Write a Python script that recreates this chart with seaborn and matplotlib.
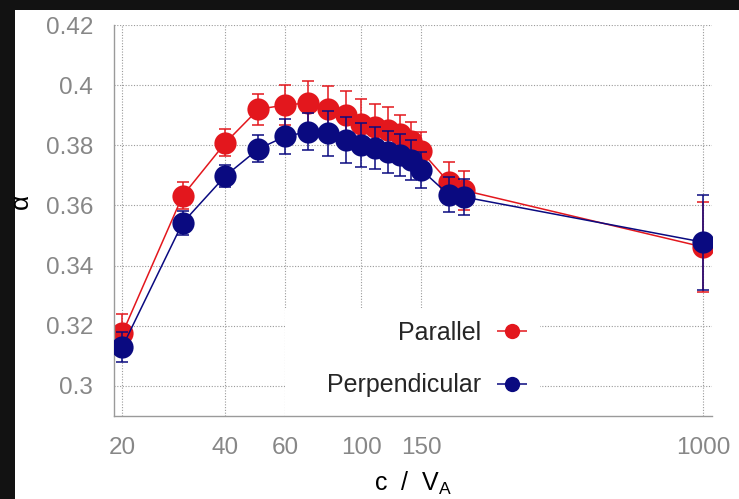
import numpy as np
import pandas as pd
import matplotlib
matplotlib.use("Agg")
import matplotlib.pyplot as plt
import seaborn as sns
from matplotlib.container import ErrorbarContainer
from matplotlib.legend_handler import HandlerErrorbar
from matplotlib.patches import Rectangle

# Speed of light in units of the Alfven speed
c_over_va = [20, 30, 40, 50, 60, 70, 80, 90, 100, 110, 120, 130, 140, 150, 180, 200, 1000]

# Spectral index alpha with its uncertainty, parallel and perpendicular cases
alpha_par = [0.3175, 0.3632, 0.3808, 0.3920, 0.3934, 0.3941, 0.3922, 0.3902, 0.3872,
             0.3860, 0.3852, 0.3838, 0.3815, 0.3780, 0.3678, 0.3650, 0.3462]
err_par = [0.0065, 0.0045, 0.0045, 0.0052, 0.0066, 0.0073, 0.0076, 0.0080, 0.0082,
           0.0078, 0.0075, 0.0063, 0.0062, 0.0064, 0.0067, 0.0064, 0.0150]
alpha_perp = [0.3130, 0.3542, 0.3698, 0.3788, 0.3830, 0.3845, 0.3840, 0.3818, 0.3801,
              0.3791, 0.3778, 0.3768, 0.3750, 0.3718, 0.3636, 0.3628, 0.3478]
err_perp = [0.0050, 0.0040, 0.0035, 0.0045, 0.0058, 0.0062, 0.0075, 0.0076, 0.0073,
            0.0070, 0.0070, 0.0070, 0.0066, 0.0060, 0.0057, 0.0060, 0.0158]

series_names = ["Parallel", "Perpendicular"]
series_colors = ["#e3171d", "#0a0a80"]

x_ticks = [20, 40, 60, 100, 150, 1000]
x_ticklabels = ["20", "40", "60", "100", "150", "1000"]
y_ticks = [0.30, 0.32, 0.34, 0.36, 0.38, 0.40, 0.42]
y_ticklabels = ["0.3", "0.32", "0.34", "0.36", "0.38", "0.4", "0.42"]

df = pd.concat([
    pd.DataFrame({"c": c_over_va, "alpha": alpha_par, "err": err_par, "series": series_names[0]}),
    pd.DataFrame({"c": c_over_va, "alpha": alpha_perp, "err": err_perp, "series": series_names[1]}),
], ignore_index=True)

sns.set_style("white")
plt.rcParams["font.family"] = ["Liberation Sans", "DejaVu Sans"]

fig = plt.figure(figsize=(7.39, 4.99), dpi=100)
fig.patch.set_facecolor("#121212")
# white slide area
fig.patches.append(Rectangle((15 / 739, 0), 1, 1 - 10 / 499, transform=fig.transFigure,
                             facecolor="white", edgecolor="none", zorder=-10))

ax = fig.add_axes([114 / 739, 1 - 416 / 499, (712 - 114) / 739, (416 - 25) / 499])
ax.set_zorder(1)
ax.set_facecolor("white")
ax.set_xscale("log")

grid_color = "#9a9a9a"
for name, color, z in zip(series_names, series_colors, [2.0, 3.0]):
    sub = df[df["series"] == name]
    sns.lineplot(data=sub, x="c", y="alpha", ax=ax, color=color, linewidth=1.1,
                 sort=False, estimator=None, errorbar=None, legend=False, zorder=z)
    ax.errorbar(sub["c"], sub["alpha"], yerr=sub["err"], fmt="none", ecolor=color,
                elinewidth=1.1, capsize=4.3, capthick=1.1, zorder=z + 0.1)
    ax.plot(sub["c"], sub["alpha"], linestyle="none", marker="o", markersize=16,
            markerfacecolor=color, markeredgewidth=0, zorder=z + 0.2)

# legend proxies: point with horizontal error bar
handles = []
for name, color in zip(series_names, series_colors):
    h = ax.errorbar([np.nan], [np.nan], xerr=[1.0], fmt="o", color=color,
                    markersize=11, markeredgewidth=0, elinewidth=1.1,
                    capsize=3.4, capthick=1.1, label=name)
    handles.append(h)

ax.set_xlim(18.9, 1062)
ax.set_ylim(0.29, 0.42)
ax.set_xticks(x_ticks)
ax.set_xticklabels(x_ticklabels)
ax.xaxis.set_minor_locator(matplotlib.ticker.NullLocator())
ax.set_yticks(y_ticks)
ax.set_yticklabels(y_ticklabels)

ax.grid(True, which="major", color=grid_color, linestyle=(0, (1, 1.5)), linewidth=0.8)
ax.set_axisbelow(True)

# blank panel behind the legend hides the grid there
ax.add_patch(Rectangle(((285 - 114) / 598, 0), (540 - 285) / 598, (416 - 308) / 391,
                       transform=ax.transAxes, facecolor="white", edgecolor="none", zorder=1.8))

for side in ["top", "right"]:
    ax.spines[side].set_visible(False)
for side in ["left", "bottom"]:
    ax.spines[side].set_color(grid_color)
    ax.spines[side].set_linewidth(1.0)

ax.tick_params(axis="both", colors=grid_color, labelcolor="#878787", labelsize=17.5,
               width=0.8)
ax.tick_params(axis="x", direction="inout", length=8, pad=11)
ax.tick_params(axis="y", direction="out", length=5, pad=10)

ax.set_ylabel("")
ax.set_xlabel(r"c  /  $\mathregular{V_A}$", fontsize=18, color="black", labelpad=8)
fig.text(21 / 739, 1 - 201 / 499, "α", rotation=90, fontsize=19, color="black",
         ha="center", va="center")

leg = ax.legend(handles=handles, labels=series_names, loc="center right",
                bbox_to_anchor=((527 - 114) / 598, (416 - 359) / 391),
                frameon=False, markerfirst=False, fontsize=18, borderpad=0,
                borderaxespad=0, handlelength=1.2, handletextpad=0.65,
                labelspacing=1.15,
                handler_map={ErrorbarContainer: HandlerErrorbar(xerr_size=0.6)})

fig.savefig("out.png", dpi=100, facecolor=fig.get_facecolor())
